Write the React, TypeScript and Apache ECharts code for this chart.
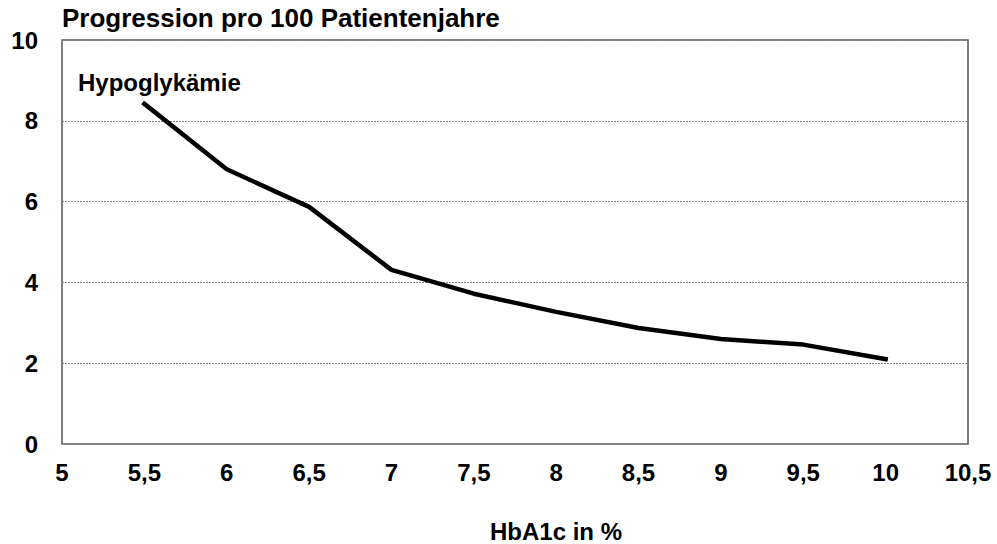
import React, { useEffect, useRef } from "react";
import * as echarts from "echarts";

const hba1c = [5.5, 6, 6.5, 7, 7.5, 8, 8.5, 9, 9.5, 10];
const progression = [8.42, 6.8, 5.87, 4.31, 3.72, 3.27, 2.87, 2.6, 2.46, 2.1];
const titleText = "Progression pro 100 Patientenjahre";
const seriesLabel = "Hypoglykämie";
const xAxisTitle = "HbA1c in %";

const FONT = "'Liberation Sans', Arial, sans-serif";

export default function App() {
  const ref = useRef<HTMLDivElement>(null);
  useEffect(() => {
    const chart = echarts.init(ref.current!, null, { renderer: "svg" });
    chart.setOption({
      animation: false,
      backgroundColor: "#ffffff",
      title: {
        text: titleText,
        left: 62,
        top: 5,
        padding: 0,
        textStyle: { fontFamily: FONT, fontWeight: "bold", fontSize: 26, color: "#000" },
      },
      grid: {
        left: 62,
        right: 29,
        top: 40,
        bottom: 100,
        show: true,
        borderColor: "#555",
        borderWidth: 1.5,
        backgroundColor: "transparent",
      },
      xAxis: {
        type: "value",
        min: 5,
        max: 10.5,
        interval: 0.5,
        axisLine: { show: false },
        axisTick: { show: false },
        splitLine: { show: false },
        axisLabel: {
          margin: 16,
          fontFamily: FONT,
          fontWeight: "bold",
          fontSize: 24,
          color: "#000",
          formatter: (v: number) => String(v).replace(".", ","),
        },
      },
      yAxis: {
        type: "value",
        min: 0,
        max: 10,
        interval: 2,
        axisLine: { show: false },
        axisTick: { show: false },
        splitLine: { show: true, lineStyle: { color: "#888", type: [2, 1], width: 1 } },
        axisLabel: {
          margin: 24,
          fontFamily: FONT,
          fontWeight: "bold",
          fontSize: 24,
          color: "#000",
        },
      },
      graphic: [
        {
          type: "text",
          x: 78,
          y: 82,
          style: {
            text: seriesLabel,
            fontFamily: FONT,
            fontWeight: "bold",
            fontSize: 24,
            fill: "#000",
            verticalAlign: "middle",
          },
        },
        {
          type: "text",
          x: 556,
          y: 531,
          style: {
            text: xAxisTitle,
            fontFamily: FONT,
            fontWeight: "bold",
            fontSize: 24,
            fill: "#000",
            align: "center",
            verticalAlign: "middle",
          },
        },
      ],
      series: [
        {
          type: "line",
          data: hba1c.map((x, i) => [x, progression[i]]),
          showSymbol: false,
          symbol: "none",
          lineStyle: { color: "#000", width: 4.5, cap: "square" },
          z: 5,
        },
      ],
    });
    return () => chart.dispose();
  }, []);
  return <div ref={ref} style={{ width: 997, height: 544, position: "absolute", left: 0, top: 0 }} />;
}
